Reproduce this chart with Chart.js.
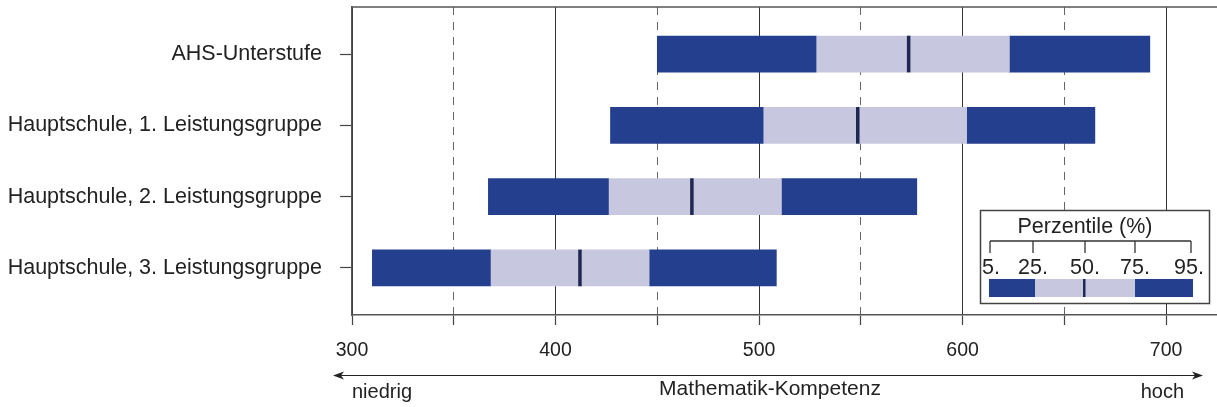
<!DOCTYPE html>
<html>
<head>
<meta charset="utf-8">
<script src="https://cdn.jsdelivr.net/npm/chart.js@4/dist/chart.umd.min.js"></script>
<style>
html,body{margin:0;padding:0;background:#fff;}
#wrap{width:1217px;height:407px;position:relative;}
</style>
</head>
<body>
<div id="wrap"><canvas id="c" width="1217" height="407"></canvas></div>
<script>
// ---- data ----
const categories = ['AHS-Unterstufe', 'Hauptschule, 1. Leistungsgruppe', 'Hauptschule, 2. Leistungsgruppe', 'Hauptschule, 3. Leistungsgruppe'];
const p5  = [450, 427, 367, 310];
const p25 = [528, 502, 426, 368];
const p50 = [573.5, 548.5, 467, 412];
const p75 = [623, 602, 511, 446];
const p95 = [692, 665, 577.5, 508.5];
const xTicks = [300, 350, 400, 450, 500, 550, 600, 650, 700];
const legendTitle = 'Perzentile (%)';
const legendLabels = ['5.', '25.', '50.', '75.', '95.'];
const xTitle = 'Mathematik-Kompetenz';
const lowLabel = 'niedrig';
const highLabel = 'hoch';

const DARK = '#253f8f';
const LIGHT = '#c7c8df';
const MED = '#1f2850';
const FONT = "'Liberation Sans', Arial, Helvetica, sans-serif";
const TXT = '#222';

function rng(a, b) { return a.map((v, i) => ({ x: [v, b[i]], y: i })); }
const medData = p50.map((m, i) => ({ x: [m - 0.7, m + 0.7], y: i }));

const extras = {
  id: 'extras',
  afterDraw(chart) {
    const ctx = chart.ctx;
    const a = chart.chartArea;
    ctx.save();
    // top frame line
    ctx.strokeStyle = '#555';
    ctx.lineWidth = 1.5;
    ctx.beginPath();
    ctx.moveTo(a.left, a.top);
    ctx.lineTo(a.right, a.top);
    ctx.stroke();

    // legend box
    const bx = 980.5, by = 210.5, bw = 229, bh = 93;
    ctx.fillStyle = '#fff';
    ctx.fillRect(bx, by, bw, bh);
    ctx.strokeStyle = '#444';
    ctx.lineWidth = 1.5;
    ctx.strokeRect(bx, by, bw, bh);
    ctx.fillStyle = TXT;
    ctx.font = '21.5px ' + FONT;
    ctx.textAlign = 'center';
    ctx.textBaseline = 'middle';
    ctx.fillText(legendTitle, 1085, 227);
    const lx = [990, 1033, 1085, 1135, 1191];
    ctx.strokeStyle = '#333';
    ctx.lineWidth = 1.3;
    ctx.beginPath();
    ctx.moveTo(lx[0], 241);
    ctx.lineTo(lx[4], 241);
    lx.forEach(x => { ctx.moveTo(x, 241); ctx.lineTo(x, 253); });
    ctx.stroke();
    legendLabels.forEach((t, i) => ctx.fillText(t, lx[i] + (i === 0 ? 1 : (i === 4 ? -2 : 0)), 268));
    ctx.fillStyle = DARK;
    ctx.fillRect(989, 279, 46, 18);
    ctx.fillStyle = LIGHT;
    ctx.fillRect(1035, 279, 100, 18);
    ctx.fillStyle = DARK;
    ctx.fillRect(1135, 279, 58, 18);
    ctx.fillStyle = MED;
    ctx.fillRect(1083, 279, 2.5, 18);

    // arrow
    const ay = 375.5, ax1 = 333, ax2 = 1203;
    ctx.strokeStyle = '#222';
    ctx.fillStyle = '#222';
    ctx.lineWidth = 1.2;
    ctx.beginPath();
    ctx.moveTo(ax1 + 4, ay);
    ctx.lineTo(ax2 - 4, ay);
    ctx.stroke();
    ctx.beginPath();
    ctx.moveTo(ax1, ay); ctx.lineTo(ax1 + 11, ay - 4); ctx.lineTo(ax1 + 8, ay); ctx.lineTo(ax1 + 11, ay + 4); ctx.closePath();
    ctx.fill();
    ctx.beginPath();
    ctx.moveTo(ax2, ay); ctx.lineTo(ax2 - 11, ay - 4); ctx.lineTo(ax2 - 8, ay); ctx.lineTo(ax2 - 11, ay + 4); ctx.closePath();
    ctx.fill();

    ctx.fillStyle = TXT;
    ctx.textBaseline = 'alphabetic';
    ctx.font = '20px ' + FONT;
    ctx.textAlign = 'left';
    ctx.fillText(lowLabel, 352, 398);
    ctx.textAlign = 'right';
    ctx.fillText(highLabel, 1184, 398);
    ctx.font = '21px ' + FONT;
    ctx.textAlign = 'center';
    ctx.fillText(xTitle, 770, 395);
    ctx.restore();
  }
};

new Chart(document.getElementById('c'), {
  type: 'bar',
  data: {
    datasets: [
      { label: 'Median', data: medData, backgroundColor: MED },
      { label: '5-25', data: rng(p5, p25), backgroundColor: DARK },
      { label: '25-75', data: rng(p25, p75), backgroundColor: LIGHT },
      { label: '75-95', data: rng(p75, p95), backgroundColor: DARK }
    ]
  },
  options: {
    indexAxis: 'y',
    responsive: false,
    animation: false,
    events: [],
    layout: { padding: { top: 7, right: 0, left: 0, bottom: 0 } },
    datasets: { bar: { grouped: false, barThickness: 36, borderWidth: 0, borderSkipped: false } },
    plugins: { legend: { display: false }, tooltip: { enabled: false } },
    scales: {
      x: {
        type: 'linear',
        min: 300, max: 725,
        offset: false,
        afterBuildTicks: s => { s.ticks = xTicks.map(v => ({ value: v })); },
        afterFit: s => { s.height = 92; s.paddingLeft = 0; s.paddingRight = 0; },
        ticks: {
          autoSkip: false,
          maxRotation: 0,
          padding: 14,
          color: TXT,
          font: { family: FONT, size: 19.5 },
          callback: v => (v % 100 === 0 ? String(v) : '')
        },
        grid: {
          display: true,
          offset: false,
          drawOnChartArea: true,
          drawTicks: true,
          tickLength: 10,
          lineWidth: 1,
          color: c => (c.tick && c.tick.value % 100 !== 0 ? '#666' : '#333'),
          tickColor: '#444',
          tickWidth: 1.2,
          tickBorderDash: []
        },
        border: {
          display: true,
          color: '#555',
          width: 1.5,
          dash: c => (c.tick && c.tick.value % 100 !== 0 ? [8, 7] : [])
        }
      },
      y: {
        type: 'linear',
        reverse: true,
        offset: false,
        min: -0.66, max: 3.66,
        afterBuildTicks: s => { s.ticks = categories.map((_, i) => ({ value: i })); },
        afterFit: s => { s.width = 352; s.paddingTop = 0; s.paddingBottom = 0; },
        ticks: {
          autoSkip: false,
          padding: 18,
          color: TXT,
          font: { family: FONT, size: 21.5 },
          callback: v => categories[v] || ''
        },
        grid: {
          display: true,
          offset: false,
          drawOnChartArea: false,
          drawTicks: true,
          tickLength: 12,
          tickColor: '#444',
          tickWidth: 1.2
        },
        border: { display: true, color: '#555', width: 1.5 }
      }
    }
  },
  plugins: [extras]
});
</script>
</body>
</html>
